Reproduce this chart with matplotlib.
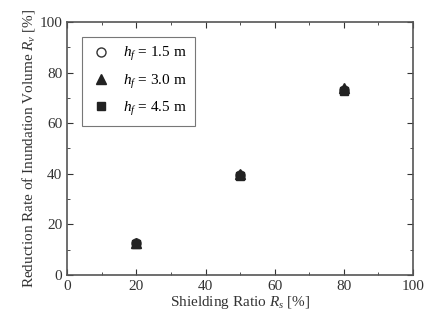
import matplotlib
matplotlib.use("Agg")
import matplotlib.pyplot as plt
from matplotlib.ticker import MultipleLocator

plt.rcParams['font.family'] = ['Liberation Serif', 'DejaVu Serif']
plt.rcParams['mathtext.fontset'] = 'custom'
plt.rcParams['mathtext.rm'] = 'Liberation Serif'
plt.rcParams['mathtext.it'] = 'Liberation Serif:italic'

shielding = [20, 50, 80]
hf15 = [12.5, 39.5, 73.0]
hf30 = [12.8, 40.0, 73.8]
hf45 = [12.3, 39.3, 72.8]
labels = ['$h_f$ = 1.5 m', '$h_f$ = 3.0 m', '$h_f$ = 4.5 m']

fig = plt.figure(figsize=(4.28, 3.27), dpi=100)
ax = fig.add_axes([0.157, 0.159, 0.808, 0.774])

ax.plot(shielding, hf15, 'o', mfc='white', mec='#333333', ms=6.5, label=labels[0], ls='none')
ax.plot(shielding, hf30, '^', color='#222222', ms=6.5, label=labels[1], ls='none')
ax.plot(shielding, hf45, 's', color='#222222', ms=6, label=labels[2], ls='none')

ax.set_xlim(0, 100)
ax.set_ylim(0, 100)
ax.xaxis.set_major_locator(MultipleLocator(20))
ax.yaxis.set_major_locator(MultipleLocator(20))
ax.xaxis.set_minor_locator(MultipleLocator(10))
ax.yaxis.set_minor_locator(MultipleLocator(10))
ax.tick_params(which='both', direction='in', top=True, right=True, labelsize=11, colors='#333333')
ax.tick_params(which='major', length=4)
ax.tick_params(which='minor', length=2)
for s in ax.spines.values():
    s.set_color('#555555')
    s.set_linewidth(1.2)

ax.set_xlabel('Shielding Ratio $R_s$ [%]', fontsize=11, color='#333333', labelpad=1)
ax.set_ylabel('Reduction Rate of Inundation Volume $R_v$ [%]', fontsize=11, color='#333333', labelpad=2)

leg = ax.legend(loc='upper left', bbox_to_anchor=(0.043, 0.94), borderaxespad=0, fontsize=11,
                frameon=True, fancybox=False, edgecolor='#555555', handletextpad=0.7,
                borderpad=0.55, labelspacing=0.6, handlelength=1.4)
leg.get_frame().set_linewidth(0.8)

fig.savefig('out.png', dpi=100)
